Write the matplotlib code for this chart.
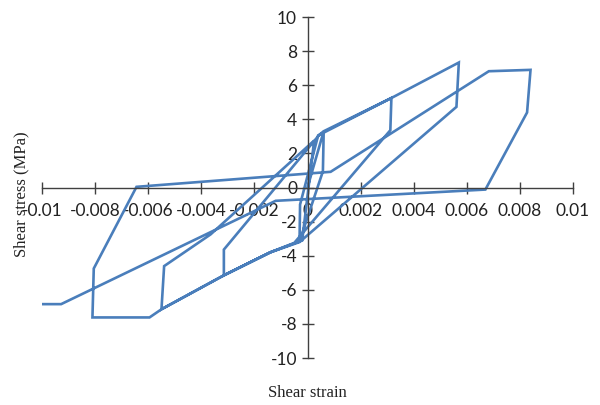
import matplotlib
matplotlib.use("Agg")
import matplotlib.pyplot as plt
from matplotlib.ticker import FixedLocator, FixedFormatter

# Hysteresis path (shear strain, shear stress in MPa)
strain = [0.0, 0.00061, 0.00058, -0.00030, -0.00028, 0.00040,
          0.00316, 0.00312, -0.00050, -0.00140, -0.00315, -0.00315,
          0.00045, 0.00061, 0.00316, 0.00570, 0.00561, -0.00030,
          -0.00140, -0.00315, -0.00550, -0.00540, -0.00365, 0.00000,
          0.00025, -0.00020, -0.00140, -0.00315, -0.00550, -0.00595,
          -0.00810, -0.00805, -0.00644, 0.00087, 0.00683, 0.00840,
          0.00827, 0.00670, -0.00120, -0.00928, -0.00999]
stress = [0.0, 3.30, 0.95, -3.15, -1.00, 3.05,
          5.25, 3.36, -3.25, -3.80, -5.15, -3.64,
          3.10, 3.30, 5.25, 7.33, 4.73, -3.20,
          -3.80, -5.15, -7.14, -4.61, -2.75, 2.40,
          2.75, -3.10, -3.80, -5.15, -7.14, -7.62,
          -7.62, -4.75, 0.04, 0.92, 6.82, 6.90,
          4.40, -0.12, -0.78, -6.84, -6.84]

x_ticks = [-0.01, -0.008, -0.006, -0.004, -0.002, 0, 0.002, 0.004, 0.006, 0.008, 0.01]
x_labels = ["-0.01", "-0.008", "-0.006", "-0.004", "-0.002", "0",
            "0.002", "0.004", "0.006", "0.008", "0.01"]
y_ticks = [-10, -8, -6, -4, -2, 0, 2, 4, 6, 8, 10]
y_labels = ["-10", "-8", "-6", "-4", "-2", "0", "2", "4", "6", "8", "10"]

fig = plt.figure(figsize=(6.0, 4.05), dpi=100)
ax = fig.add_axes([0.07, 0.116, 0.885, 0.842])

ax.plot(strain, stress, color="#4a7ebb", linewidth=1.9, solid_joinstyle="miter")

ax.set_xlim(-0.01, 0.01)
ax.set_ylim(-10, 10)

for side in ("top", "right"):
    ax.spines[side].set_visible(False)
ax.spines["left"].set_position(("data", 0))
ax.spines["bottom"].set_position(("data", 0))
for side in ("left", "bottom"):
    ax.spines[side].set_color("#404040")
    ax.spines[side].set_linewidth(1.0)

ax.xaxis.set_major_locator(FixedLocator(x_ticks))
ax.xaxis.set_major_formatter(FixedFormatter(x_labels))
ax.yaxis.set_major_locator(FixedLocator(y_ticks))
ax.yaxis.set_major_formatter(FixedFormatter(y_labels))

tick_font = "Lato"
ax.tick_params(axis="both", direction="inout", length=9, width=1.0,
               colors="#404040", labelcolor="#222222", labelsize=12.5)
ax.tick_params(axis="x", pad=7)
ax.tick_params(axis="y", pad=3)
for lab in ax.get_xticklabels() + ax.get_yticklabels():
    lab.set_fontfamily(tick_font)

fig.text(0.512, 0.03, "Shear strain", ha="center", va="center",
         family="Liberation Serif", fontsize=12, color="#222222")
fig.text(0.035, 0.52, "Shear stress (MPa)", ha="center", va="center",
         rotation=90, family="Liberation Serif", fontsize=12, color="#222222")

fig.savefig("out.png", dpi=100)
